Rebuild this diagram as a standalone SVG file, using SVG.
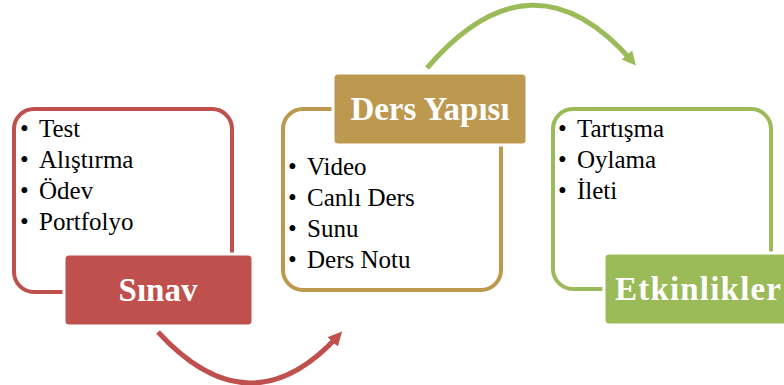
<svg xmlns="http://www.w3.org/2000/svg" width="784" height="385" viewBox="0 0 784 385">
<style>
.item{font-family:"Liberation Serif","Times New Roman",serif;font-size:25px;fill:#000}
.lbl{font-family:"Liberation Serif","Times New Roman",serif;font-size:33px;font-weight:bold;fill:#fff}
.frame{fill:#fff;stroke-width:4}
.tag{stroke:#fff;stroke-width:3}
.arc{fill:none;stroke-width:5}
</style>
<defs>
<marker id="ahr" markerUnits="userSpaceOnUse" markerWidth="16" markerHeight="16" refX="8" refY="8" orient="auto" viewBox="0 0 16 16"><path d="M0,1 L14,8 L0,15 Z" fill="#C0504D"/></marker>
<marker id="ahg" markerUnits="userSpaceOnUse" markerWidth="16" markerHeight="16" refX="8" refY="8" orient="auto" viewBox="0 0 16 16"><path d="M0,1 L14,8 L0,15 Z" fill="#9BBB59"/></marker>
</defs>
<g id="connectors">
<path class="arc" stroke="#C0504D" d="M158,332 Q250,432 338,336" marker-end="url(#ahr)"/>
<path class="arc" stroke="#9BBB59" d="M427,68 Q532,-54 632,61" marker-end="url(#ahg)"/>
</g>
<g id="sinav">
<rect class="frame" stroke="#C0504D" x="14" y="109" width="218" height="183" rx="20"/>
<text class="item" y="137"><tspan x="20">•</tspan><tspan x="39">Test</tspan></text>
<text class="item" y="168"><tspan x="20">•</tspan><tspan x="39">Alıştırma</tspan></text>
<text class="item" y="199"><tspan x="20">•</tspan><tspan x="39">Ödev</tspan></text>
<text class="item" y="230"><tspan x="20">•</tspan><tspan x="39">Portfolyo</tspan></text>
<rect class="tag" fill="#C0504D" x="64" y="254" width="189" height="72" rx="5"/>
<text class="lbl" x="158" y="301" text-anchor="middle">Sınav</text>
</g>
<g id="ders-yapisi">
<rect class="frame" stroke="#BC994F" x="283" y="109" width="218" height="181" rx="20"/>
<text class="item" y="175"><tspan x="288">•</tspan><tspan x="307">Video</tspan></text>
<text class="item" y="206"><tspan x="288">•</tspan><tspan x="307">Canlı Ders</tspan></text>
<text class="item" y="237"><tspan x="288">•</tspan><tspan x="307">Sunu</tspan></text>
<text class="item" y="268"><tspan x="288">•</tspan><tspan x="307">Ders Notu</tspan></text>
<rect class="tag" fill="#BC994F" x="333" y="73" width="194" height="72" rx="5"/>
<text class="lbl" x="430" y="120" text-anchor="middle">Ders Yapısı</text>
</g>
<g id="etkinlikler">
<rect class="frame" stroke="#9BBB59" x="553" y="109" width="218" height="180" rx="20"/>
<text class="item" y="137"><tspan x="558">•</tspan><tspan x="577">Tartışma</tspan></text>
<text class="item" y="168"><tspan x="558">•</tspan><tspan x="577">Oylama</tspan></text>
<text class="item" y="199"><tspan x="558">•</tspan><tspan x="577">İleti</tspan></text>
<rect class="tag" fill="#9BBB59" x="604" y="253" width="200" height="72" rx="5"/>
<text class="lbl" x="615" y="300" textLength="166" lengthAdjust="spacing">Etkinlikler</text>
</g>
</svg>
